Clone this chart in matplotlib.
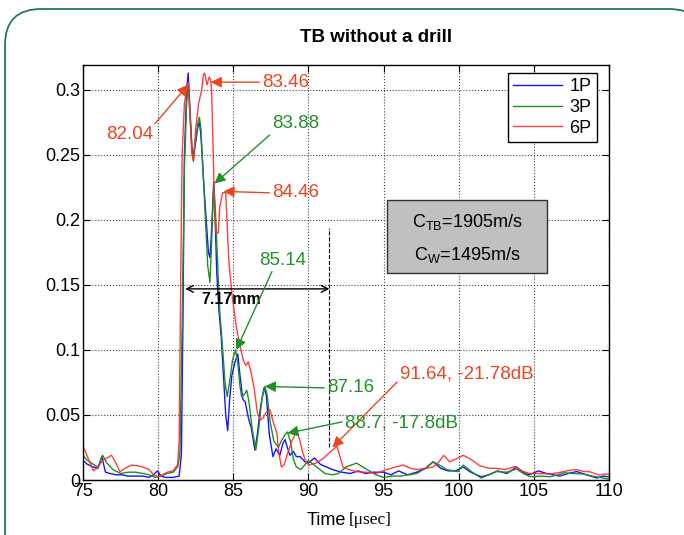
import matplotlib
matplotlib.use('Agg')
import matplotlib.pyplot as plt
from matplotlib.patches import FancyBboxPatch, Rectangle

plt.rcParams['font.family'] = ['Liberation Sans', 'DejaVu Sans']

# ---- data (time in usec, amplitude) ----
t_1p = [75.0, 75.3, 75.7, 76.0, 76.25, 76.5, 76.8, 77.2, 77.6, 78.0, 78.5, 79.0, 79.4, 79.7,
        79.95, 80.2, 80.5, 81.0, 81.4, 81.55, 81.65, 81.75, 81.9, 82.0, 82.1, 82.25, 82.35,
        82.5, 82.65, 82.75, 82.85, 83.0, 83.2, 83.35, 83.45, 83.55, 83.7, 83.8, 83.9, 84.05,
        84.2, 84.35, 84.5, 84.63, 84.75, 84.9, 85.1, 85.3, 85.45, 85.64, 85.8, 86.0, 86.2,
        86.44, 86.6, 86.8, 87.05, 87.2, 87.4, 87.64, 87.85, 88.1, 88.3, 88.45, 88.6, 88.77,
        89.0, 89.2, 89.44, 89.77, 90.0, 90.4, 90.8, 91.2, 91.6, 92.2, 92.8, 93.3, 93.8, 94.3,
        95.0, 95.5, 96.0, 96.6, 97.2, 97.8, 98.3, 98.8, 99.3, 99.8, 100.3, 100.8, 101.5,
        102.0, 102.6, 103.2, 103.85, 104.3, 104.7, 105.3, 105.85, 106.3, 106.7, 107.3,
        107.85, 108.5, 109.2, 109.6, 110.0]
a_1p = [0.015, 0.012, 0.010, 0.009, 0.018, 0.006, 0.005, 0.004, 0.004, 0.003, 0.003, 0.003,
        0.002, 0.004, 0.007, 0.003, 0.002, 0.002, 0.003, 0.020, 0.12, 0.25, 0.30, 0.313, 0.29,
        0.255, 0.25, 0.26, 0.272, 0.275, 0.265, 0.235, 0.20, 0.175, 0.171, 0.19, 0.229, 0.20,
        0.16, 0.13, 0.11, 0.08, 0.05, 0.038, 0.06, 0.08, 0.09, 0.097, 0.08, 0.062, 0.06,
        0.048, 0.04, 0.023, 0.035, 0.055, 0.071, 0.065, 0.035, 0.018, 0.024, 0.019, 0.028,
        0.031, 0.025, 0.019, 0.022, 0.018, 0.018, 0.014, 0.013, 0.017, 0.012, 0.010, 0.008,
        0.006, 0.005, 0.007, 0.005, 0.006, 0.006, 0.004, 0.007, 0.004, 0.006, 0.009, 0.014,
        0.009, 0.007, 0.007, 0.010, 0.006, 0.0025, 0.004, 0.007, 0.005, 0.010, 0.006, 0.004,
        0.007, 0.005, 0.004, 0.003, 0.005, 0.0065, 0.004, 0.0015, 0.003, 0.0025]

t_3p = [75.0, 75.3, 75.7, 76.0, 76.3, 76.6, 77.0, 77.5, 78.0, 78.5, 79.0, 79.4, 79.8, 80.2,
        80.6, 81.0, 81.3, 81.45, 81.6, 81.75, 81.9, 82.0, 82.1, 82.25, 82.35, 82.5, 82.65,
        82.75, 82.85, 83.0, 83.15, 83.3, 83.45, 83.55, 83.7, 83.8, 83.95, 84.1, 84.3, 84.45,
        84.6, 84.75, 84.95, 85.15, 85.3, 85.45, 85.56, 85.75, 85.9, 86.05, 86.25, 86.5, 86.7,
        86.9, 87.1, 87.25, 87.45, 87.7, 88.0, 88.2, 88.45, 88.6, 88.8, 89.0, 89.2, 89.5,
        90.0, 90.55, 91.1, 91.6, 92.0, 92.5, 93.2, 93.9, 94.5, 95.0, 95.6, 96.1, 96.7, 97.2,
        97.8, 98.3, 98.8, 99.2, 99.95, 100.3, 100.9, 101.5, 102.0, 102.5, 103.2, 103.85,
        104.3, 104.75, 105.4, 106.1, 106.6, 107.0, 107.6, 108.3, 108.9, 109.4, 109.85, 110.0]
a_3p = [0.019, 0.015, 0.012, 0.010, 0.019, 0.013, 0.008, 0.005, 0.006, 0.006, 0.005, 0.004,
        0.002, 0.003, 0.005, 0.006, 0.010, 0.02, 0.12, 0.24, 0.29, 0.305, 0.285, 0.255, 0.245,
        0.262, 0.275, 0.279, 0.27, 0.235, 0.20, 0.165, 0.152, 0.18, 0.228, 0.21, 0.17, 0.13,
        0.10, 0.075, 0.064, 0.075, 0.092, 0.10, 0.09, 0.072, 0.064, 0.066, 0.069, 0.06, 0.04,
        0.023, 0.04, 0.062, 0.072, 0.066, 0.045, 0.03, 0.025, 0.03, 0.035, 0.037, 0.03, 0.016,
        0.010, 0.008, 0.015, 0.010, 0.005, 0.004, 0.005, 0.010, 0.013, 0.008, 0.004, 0.002,
        0.003, 0.003, 0.004, 0.005, 0.009, 0.014, 0.011, 0.008, 0.0065, 0.0115, 0.006, 0.0015,
        0.004, 0.0065, 0.006, 0.0085, 0.005, 0.0025, 0.003, 0.0025, 0.004, 0.0056, 0.005,
        0.0046, 0.003, 0.002, 0.001, 0.001]

t_6p = [75.0, 75.3, 75.7, 76.0, 76.3, 76.6, 76.9, 77.15, 77.46, 77.8, 78.24, 78.6, 79.0,
        79.4, 79.7, 80.0, 80.3, 80.6, 81.0, 81.3, 81.4, 81.5, 81.6, 81.75, 81.9, 82.0, 82.1,
        82.25, 82.35, 82.5, 82.7, 82.9, 83.0, 83.1, 83.25, 83.4, 83.5, 83.56, 83.65, 83.75,
        83.85, 84.0, 84.1, 84.3, 84.5, 84.6, 84.7, 84.9, 85.2, 85.45, 85.67, 85.85, 86.0,
        86.2, 86.4, 86.6, 86.8, 87.0, 87.2, 87.44, 87.65, 87.9, 88.05, 88.2, 88.4, 88.6,
        88.9, 89.2, 89.4, 89.6, 89.8, 90.0, 90.5, 91.0, 91.5, 91.9, 92.1, 92.3, 92.7, 93.2,
        93.8, 94.5, 95.2, 95.8, 96.3, 96.8, 97.2, 97.8, 98.3, 98.7, 99.0, 99.4, 99.8, 100.3,
        100.8, 101.4, 102.0, 102.5, 103.1, 103.75, 104.2, 104.7, 105.3, 106.1, 106.8, 107.4,
        107.85, 108.3, 108.7, 109.3, 109.85, 110.0]
a_6p = [0.026, 0.018, 0.007, 0.010, 0.015, 0.017, 0.019, 0.014, 0.0064, 0.009, 0.0115, 0.011,
        0.010, 0.008, 0.004, 0.0025, 0.004, 0.006, 0.007, 0.012, 0.03, 0.15, 0.25, 0.29, 0.30,
        0.306, 0.285, 0.25, 0.246, 0.27, 0.29, 0.30, 0.311, 0.313, 0.304, 0.31, 0.308, 0.30,
        0.26, 0.21, 0.19, 0.19, 0.21, 0.221, 0.221, 0.195, 0.17, 0.144, 0.118, 0.103, 0.092,
        0.088, 0.091, 0.082, 0.07, 0.052, 0.046, 0.048, 0.052, 0.054, 0.045, 0.036, 0.02,
        0.010, 0.012, 0.02, 0.03, 0.037, 0.032, 0.022, 0.015, 0.0115, 0.013, 0.0167, 0.022,
        0.026, 0.018, 0.010, 0.008, 0.0064, 0.006, 0.005, 0.008, 0.010, 0.0115, 0.009, 0.008,
        0.009, 0.010, 0.014, 0.019, 0.014, 0.016, 0.019, 0.016, 0.011, 0.009, 0.009, 0.008,
        0.0105, 0.007, 0.005, 0.005, 0.0046, 0.006, 0.0075, 0.008, 0.0065, 0.0064, 0.004,
        0.0046, 0.0045]

# annotated peaks: (time, amplitude, label)
red_marks = [(82.0, 0.304, "82.04"), (83.5, 0.306, "83.46"), (84.35, 0.222, "84.46"),
             (91.6, 0.025, "91.64, -21.78dB")]
green_marks = [(83.75, 0.228, "83.88"), (85.2, 0.100, "85.14"), (87.1, 0.072, "87.16"),
               (88.6, 0.036, "88.7, -17.8dB")]

BLUE = '#1414ff'
GREEN = '#1f8f1f'
RED = '#ff2a2a'
RED_TXT = '#e8461f'
GREEN_TXT = '#23902a'

fig = plt.figure(figsize=(6.84, 5.35), dpi=100)

# slide frame behind everything (pixel coords)
bg = fig.add_axes([0, 0, 1, 1], zorder=0)
bg.set_xlim(0, 684)
bg.set_ylim(535, 0)
bg.axis('off')
frame = FancyBboxPatch((5, 9), 700, 600, boxstyle="round,pad=0,rounding_size=36",
                       facecolor='white', edgecolor='#1e7b63', linewidth=1.3)
bg.add_patch(frame)
bg.text(376, 38, "TB without a drill", ha='center', va='center', fontsize=13.5,
        fontweight='bold')

ax = fig.add_axes([0.1213, 0.1028, 0.769, 0.7757], zorder=1)
ax.plot(t_1p, a_1p, color=BLUE, lw=1.0, label='1P')
ax.plot(t_3p, a_3p, color=GREEN, lw=1.0, label='3P')
ax.plot(t_6p, a_6p, color=RED, lw=1.0, alpha=0.9, label='6P')

ax.set_xlim(75, 110)
ax.set_ylim(0, 0.3192)
ax.set_xticks([75, 80, 85, 90, 95, 100, 105, 110])
ax.set_yticks([0, 0.05, 0.1, 0.15, 0.2, 0.25, 0.3])
ax.set_yticklabels(['0', '0.05', '0.1', '0.15', '0.2', '0.25', '0.3'])
ax.tick_params(direction='in', length=5, width=0.8, labelsize=13, top=True, right=True,
               colors='black', pad=2)
ax.grid(True, linestyle=':', color='#444444', linewidth=0.8)
for s in ax.spines.values():
    s.set_linewidth(1.0)

ax.text(0.50, -0.097, "Time", transform=ax.transAxes, ha='right', va='center',
        fontsize=13)
ax.text(0.505, -0.097, "[\u03bcsec]", transform=ax.transAxes, ha='left', va='center',
        fontsize=12.5, family=['Liberation Serif', 'DejaVu Serif'])

leg = ax.legend(loc='upper right', bbox_to_anchor=(0.977, 0.981), borderaxespad=0,
                fancybox=False, edgecolor='black', fontsize=13, handlelength=2.7,
                labelspacing=0.2, borderpad=0.3, handletextpad=0.4, framealpha=1)
leg.get_frame().set_linewidth(1.0)

# velocity box
ax.add_patch(Rectangle((95.23, 0.159), 10.64, 0.056, facecolor='#c0c0c0',
                       edgecolor='#333333', linewidth=1.0, zorder=5))
ax.text(100.55, 0.1985, "C$_{\\mathregular{TB}}$=1905m/s", ha='center', va='center',
        fontsize=13, zorder=6)
ax.text(100.55, 0.173, "C$_{\\mathregular{W}}$=1495m/s", ha='center', va='center',
        fontsize=13, zorder=6)

# annotations: text position (data) and where the arrow leaves the text
red_text = [(78.13, 0.2654, 'center', (0.95, 0.9)),
            (86.91, 0.306, 'left', (0.0, 0.5)),
            (87.58, 0.2208, 'left', (0.0, 0.5)),
            (96.09, 0.0815, 'left', (0.0, 0.2))]
green_text = [(89.17, 0.274, 'center', (0.05, 0.1)),
              (88.31, 0.169, 'center', (0.3, 0.05)),
              (91.23, 0.0708, 'left', (0.0, 0.5)),
              (92.43, 0.0438, 'left', (0.0, 0.6))]

for (x, y, lab), (tx, ty, ha, rp) in zip(red_marks, red_text):
    ax.annotate(lab, xy=(x, y), xytext=(tx, ty), ha=ha, va='center', fontsize=13.5,
                color=RED_TXT, zorder=7,
                arrowprops=dict(arrowstyle='-|>', color=RED_TXT, lw=1.0, relpos=rp,
                                mutation_scale=16, shrinkA=0, shrinkB=0))
for (x, y, lab), (tx, ty, ha, rp) in zip(green_marks, green_text):
    ax.annotate(lab, xy=(x, y), xytext=(tx, ty), ha=ha, va='center', fontsize=13.5,
                color=GREEN_TXT, zorder=7,
                arrowprops=dict(arrowstyle='-|>', color=GREEN_TXT, lw=1.0, relpos=rp,
                                mutation_scale=16, shrinkA=0, shrinkB=0))

# 7.17mm span
ax.annotate('', xy=(81.8, 0.147), xytext=(91.4, 0.147),
            arrowprops=dict(arrowstyle='<->', color='black', lw=1.0, mutation_scale=12,
                            shrinkA=0, shrinkB=0))
ax.text(84.85, 0.139, "7.17mm", ha='center', va='center', fontsize=11.5,
        fontweight='bold', color='black')
ax.plot([91.4, 91.4], [0.025, 0.194], color='black', lw=0.8, linestyle='--')

plt.savefig('out.png', dpi=100, facecolor='white')
plt.close()
